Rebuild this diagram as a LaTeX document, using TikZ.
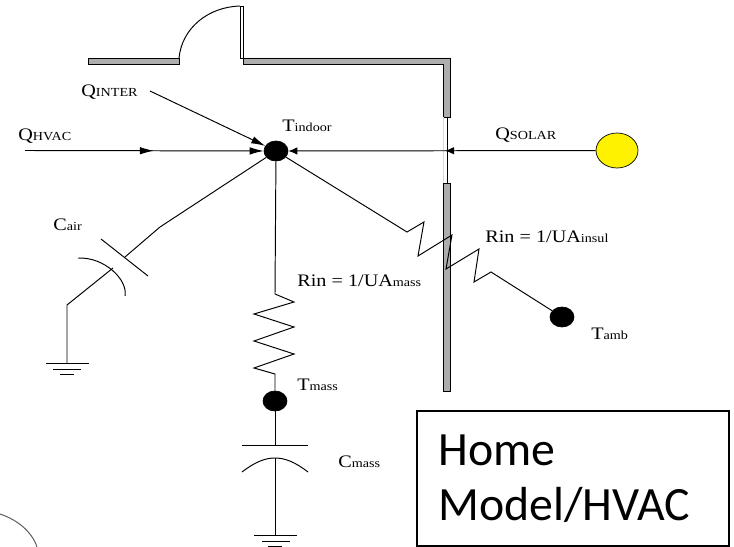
\documentclass[tikz,border=0pt]{standalone}
\usepackage{fontspec}
\setmainfont{Liberation Serif}
\newfontfamily\boxfont{Carlito}
\usepackage{tikz}
\usetikzlibrary{positioning,shapes,arrows.meta,decorations.markings}
\definecolor{wallgray}{gray}{0.68}
\newcommand{\bigsmall}[2]{\scalebox{1.15}[1]{{\fontsize{10}{12}\selectfont #1}{\fontsize{7}{9}\selectfont #2}}}

\begin{document}
\begin{tikzpicture}[x=0.02cm,y=-0.02cm]
      \tikzstyle{dot} = [ellipse, minimum width=24*0.02cm, minimum height=20*0.02cm, inner sep=0pt, draw, fill]
      \tikzstyle{wall} = [draw, line width=0.5pt, fill=wallgray]
      \tikzstyle{wire} = [line width=0.55pt]
      \tikzstyle{lab} = [inner sep=0pt, anchor=base west]
      \tikzstyle{tip} = [-{Latex[length=2.8mm,width=1.5mm]}]
      \tikzstyle{shorttip} = [-{Latex[length=1.8mm,width=1.5mm]}]
      \tikzstyle{midtip} = [postaction={decorate}, decoration={markings, mark=at position #1 with {\arrow{Latex[length=2.8mm,width=1.5mm]}}}]
      \tikzstyle{midshort} = [postaction={decorate}, decoration={markings, mark=at position #1 with {\arrow{Latex[length=1.8mm,width=1.5mm]}}}]
      \useasboundingbox (0,0) rectangle (734,547);
      % WALLS
      \draw[wall] (88,58) rectangle (179,64);
      \draw[wall] (243,58) -- (450,58) -- (450,117) -- (443,117) -- (443,64) -- (243,64) -- cycle;
      \draw[wall] (443,183) rectangle (450,391);
      \draw[wall,fill=white] (240,6) rectangle (243,58);
      \draw[wire] (179,58) .. controls (182,28) and (208,7) .. (240,6);
      \draw[wire,gray!30] (443,117) -- (443,183);
      \draw[wire] (447,117) -- (447,183);
      % NODES
      \node[dot] (tindoor) at (276,151) {};
      \node[dot] (tamb) at (562,317) {};
      \node[dot] (tmass) at (275,401) {};
      \node[ellipse, minimum width=42*0.02cm, minimum height=35*0.02cm, inner sep=0pt, draw, fill=yellow] (sun) at (617,150.5) {};
      % FREE ENDS
      \coordinate (hvac) at (25,150.5);
      \coordinate (inter) at (150,91);
      % HEAT FLOWS
      \draw[wire,tip,midtip=0.54] (hvac) -- (tindoor);
      \draw[wire,tip] (inter) -- (tindoor);
      \draw[wire,shorttip,midshort=0.49] (sun) -- (tindoor);
      % CAIR
      \coordinate (ca) at (160,227); \coordinate (cb) at (125,257);
      \coordinate (cc) at (113,268); \coordinate (cd) at (67,305);
      \coordinate (ce) at (67,363);
      \draw[wire] (tindoor) -- (ca) -- (cb);
      \draw[wire] (cc) -- (cd) -- (ce);
      \draw[wire] (101,239) -- (148,276);
      \draw[wire] (78,258) .. controls (105,257) and (128,280) .. (125,296);
      \draw[wire] (46,363) -- (89,363) (53,369) -- (81,369) (60,374) -- (74,374);
      % RMASS
      \coordinate (ra) at (275,294); \coordinate (rb) at (294,302);
      \coordinate (rc) at (254,314); \coordinate (rd) at (294,327);
      \coordinate (re) at (254,341); \coordinate (rf) at (294,354);
      \coordinate (rg) at (254,368); \coordinate (rh) at (275,374);
      \draw[wire] (tindoor) -- (ra) -- (rb) -- (rc) -- (rd) -- (re) -- (rf) -- (rg) -- (rh) -- (tmass);
      % CMASS
      \coordinate (ma) at (275,445); \coordinate (mb) at (275,458);
      \coordinate (mc) at (275,535);
      \draw[wire] (tmass) -- (ma);
      \draw[wire] (242,445) -- (308,445);
      \draw[wire] (242,472) .. controls (255,462) and (265,458) .. (mb) .. controls (285,458) and (295,462) .. (308,472);
      \draw[wire] (mb) -- (mc);
      \draw[wire] (254,535) -- (297,535) (262,541) -- (290,541) (268,546) -- (282,546);
      % RINSUL
      \coordinate (ia) at (407,232); \coordinate (ib) at (424,222);
      \coordinate (ic) at (418,256); \coordinate (id) at (452,235);
      \coordinate (ie) at (446,269); \coordinate (if) at (479,249);
      \coordinate (ig) at (474,282); \coordinate (ih) at (491,272);
      \draw[wire] (tindoor) -- (ia) -- (ib) -- (ic) -- (id) -- (ie) -- (if) -- (ig) -- (ih) -- (tamb);
      % LABELS
      \node[lab] (lhvac) at (18,141) {\bigsmall{Q}{HVAC}};
      \node[lab] (linter) at (81,97) {\bigsmall{Q}{INTER}};
      \node[lab] (lsolar) at (495,140) {\bigsmall{Q}{SOLAR}};
      \node[lab] (lindoor) at (282,132) {\bigsmall{T}{indoor}};
      \node[lab] (lcair) at (53,231) {\bigsmall{C}{air}};
      \node[lab] (lrmass) at (297,287) {\bigsmall{Rin = 1/UA}{mass}};
      \node[lab] (lrinsul) at (485,243) {\bigsmall{Rin = 1/UA}{insul}};
      \node[lab] (ltamb) at (591,339) {\bigsmall{T}{amb}};
      \node[lab] (ltmass) at (297,391) {\bigsmall{T}{mass}};
      \node[lab] (lcmass) at (338,467) {\bigsmall{C}{mass}};
      % BOX
      \draw[line width=0.8pt] (417,411) rectangle (729,546);
      \node[lab,font=\boxfont\fontsize{27.2}{31}\selectfont] (home) at (438,465) {Home};
      \node[lab,font=\boxfont\fontsize{27.2}{31}\selectfont] (model) at (438,520) {Model/HVAC};
      % ARC
      \draw[wire,gray!70!black] (0,514) .. controls (18,520) and (32,532) .. (37,547);
    \end{tikzpicture}
\end{document}
